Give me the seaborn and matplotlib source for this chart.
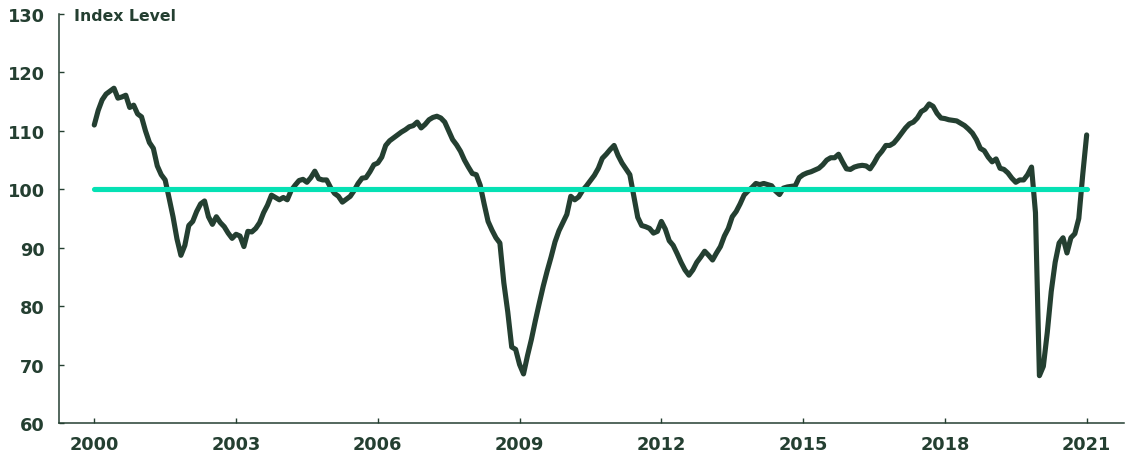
import numpy as np
import pandas as pd
import matplotlib
matplotlib.use("Agg")
import matplotlib.pyplot as plt
import seaborn as sns

# Monthly index level, Jan 2000 .. Jan 2021
y2000 = [111.0, 113.5, 115.3, 116.3, 116.8, 117.3, 115.6, 115.8, 116.1, 114.0, 114.4, 112.9]
y2001 = [112.4, 110.0, 108.0, 107.0, 104.0, 102.5, 101.6, 98.5, 95.3, 91.5, 88.7, 90.4]
y2002 = [93.8, 94.5, 96.2, 97.5, 98.0, 95.3, 94.0, 95.3, 94.3, 93.6, 92.5, 91.6]
y2003 = [92.3, 92.0, 90.2, 92.8, 92.7, 93.3, 94.3, 96.0, 97.3, 99.0, 98.6, 98.2]
y2004 = [98.6, 98.2, 99.8, 100.7, 101.5, 101.7, 101.2, 102.0, 103.1, 101.8, 101.6, 101.6]
y2005 = [100.3, 99.3, 98.8, 97.8, 98.3, 98.8, 99.8, 101.0, 101.9, 102.0, 103.0, 104.2]
y2006 = [104.5, 105.5, 107.5, 108.3, 108.8, 109.3, 109.8, 110.2, 110.7, 110.9, 111.5, 110.5]
y2007 = [111.1, 111.9, 112.3, 112.5, 112.2, 111.5, 110.0, 108.5, 107.6, 106.5, 105.0, 103.8]
y2008 = [102.7, 102.5, 100.7, 97.5, 94.5, 93.0, 91.7, 90.8, 84.0, 79.0, 73.0, 72.6]
y2009 = [70.0, 68.4, 71.5, 74.3, 77.5, 80.5, 83.4, 86.0, 88.4, 91.0, 92.9, 94.3]
y2010 = [95.7, 98.8, 98.2, 98.7, 99.8, 100.6, 101.5, 102.4, 103.6, 105.3, 106.0, 106.8]
y2011 = [107.5, 105.8, 104.5, 103.5, 102.5, 98.8, 95.2, 93.8, 93.6, 93.3, 92.5, 92.8]
y2012 = [94.5, 93.2, 91.2, 90.4, 89.0, 87.5, 86.2, 85.3, 86.2, 87.5, 88.4, 89.4]
y2013 = [88.7, 87.9, 89.1, 90.2, 92.0, 93.3, 95.3, 96.2, 97.5, 99.0, 99.7, 100.3]
y2014 = [101.0, 100.8, 101.0, 100.8, 100.6, 99.7, 99.1, 100.2, 100.4, 100.5, 100.6, 102.0]
y2015 = [102.5, 102.8, 103.0, 103.3, 103.6, 104.2, 105.0, 105.4, 105.4, 106.0, 104.7, 103.5]
y2016 = [103.4, 103.8, 104.0, 104.1, 104.0, 103.5, 104.5, 105.7, 106.5, 107.5, 107.5, 107.9]
y2017 = [108.7, 109.6, 110.5, 111.2, 111.5, 112.2, 113.3, 113.7, 114.6, 114.2, 113.0, 112.2]
y2018 = [112.1, 111.9, 111.8, 111.7, 111.3, 110.9, 110.3, 109.6, 108.5, 107.0, 106.6, 105.5]
y2019 = [104.7, 105.2, 103.6, 103.4, 102.8, 101.9, 101.2, 101.6, 101.6, 102.5, 103.8, 96.0]
y2020 = [68.1, 69.7, 75.5, 82.5, 87.5, 90.8, 91.7, 89.1, 91.7, 92.4, 95.0, 102.5]
y2021 = [109.3]

baseline_level = 100
x_ticks = [2000, 2003, 2006, 2009, 2012, 2015, 2018, 2021]
y_ticks = [60, 70, 80, 90, 100, 110, 120, 130]
y_label = "Index Level"

values = (y2000 + y2001 + y2002 + y2003 + y2004 + y2005 + y2006 + y2007 + y2008 + y2009
          + y2010 + y2011 + y2012 + y2013 + y2014 + y2015 + y2016 + y2017 + y2018 + y2019
          + y2020 + y2021)
dates = pd.date_range("2000-01-01", periods=len(values), freq="MS")
df = pd.DataFrame({
    "year": dates.year + (dates.month - 1) / 12.0,
    "index": values,
    "base": [baseline_level] * len(values),
})

DARK = "#243f31"
TEAL = "#05e1b4"
TEXT = "#243f31"

sns.set_style("white")
plt.rcParams["font.family"] = ["DejaVu Sans"]

fig = plt.figure(figsize=(11.3, 4.56), dpi=100)
ax = fig.add_axes([59.3 / 1130, 1 - 424.0 / 456, (1124 - 59.3) / 1130, (424.0 - 15.0) / 456])

sns.lineplot(data=df, x="year", y="index", ax=ax, color=DARK, linewidth=3.7,
             solid_capstyle="round", solid_joinstyle="round", zorder=3)
sns.lineplot(data=df, x="year", y="base", ax=ax, color=TEAL, linewidth=3.7,
             solid_capstyle="round", zorder=4)

ax.set_xlim(1999.26, 2021.79)
ax.set_ylim(60, 130)
ax.set_xticks(x_ticks)
ax.set_xticklabels([str(t) for t in x_ticks])
ax.set_yticks(y_ticks)
ax.set_yticklabels([str(t) for t in y_ticks])
ax.set_xlabel("")
ax.set_ylabel("")

for side in ["top", "right"]:
    ax.spines[side].set_visible(False)
for side in ["left", "bottom"]:
    ax.spines[side].set_color(DARK)
    ax.spines[side].set_linewidth(1.1)

ax.tick_params(axis="both", which="major", bottom=True, left=True, direction="in",
               length=3.5, width=1.0, color=DARK, labelcolor=TEXT, labelsize=12.8)
ax.tick_params(axis="y", pad=10.5)
ax.tick_params(axis="x", pad=8.5)
for lab in ax.get_xticklabels() + ax.get_yticklabels():
    lab.set_fontweight("bold")

fig.text(74 / 1130, 1 - 16.5 / 456, y_label, ha="left", va="center",
         fontsize=11.3, fontweight="bold", color=TEXT)

fig.savefig("out.png", dpi=100, facecolor="white")
